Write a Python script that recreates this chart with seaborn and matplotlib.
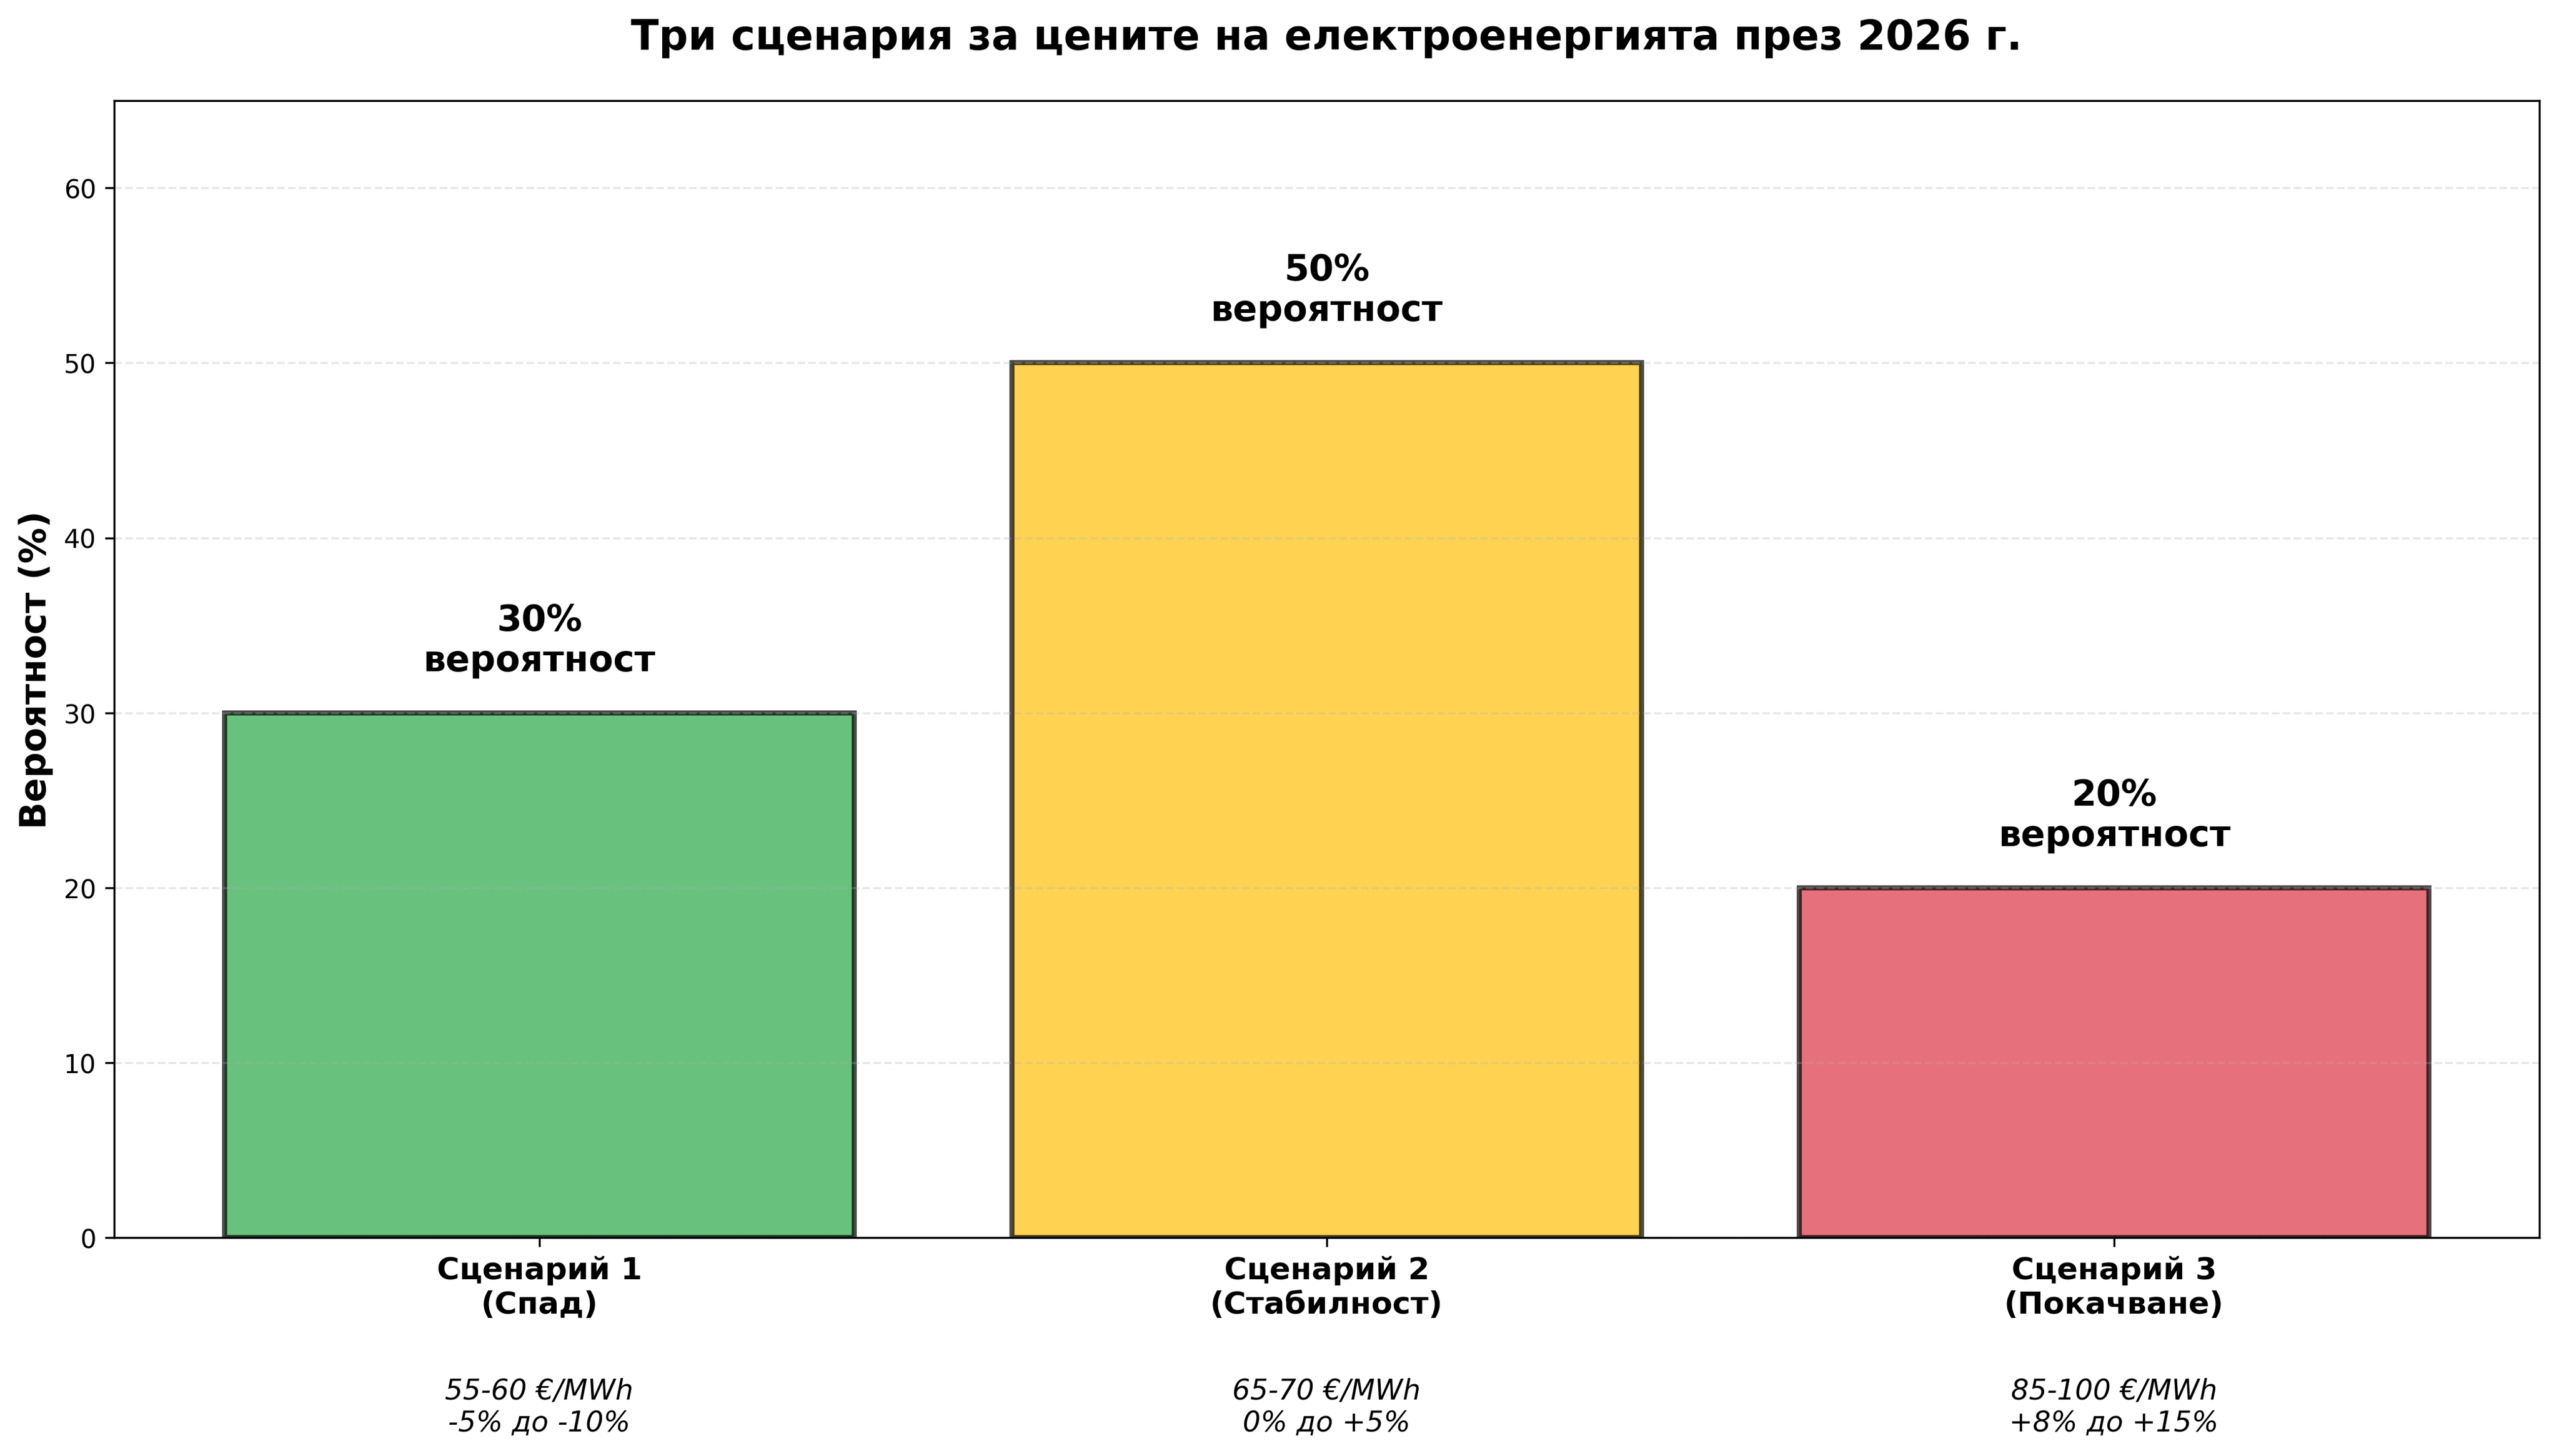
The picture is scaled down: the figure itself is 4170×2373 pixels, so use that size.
import pandas as pd
import seaborn as sns
import matplotlib.pyplot as plt

# Data
scenarios = ['Сценарий 1\n(Спад)', 'Сценарий 2\n(Стабилност)', 'Сценарий 3\n(Покачване)']
probabilities = [30, 50, 20]
prices = ['55-60 €/MWh\n-5% до -10%', '65-70 €/MWh\n0% до +5%', '85-100 €/MWh\n+8% до +15%']
colors = ['#28a745', '#ffc107', '#dc3545']

df = pd.DataFrame({'Сценарий': scenarios, 'Вероятност': probabilities})

fig, ax = plt.subplots(figsize=(13.9, 7.913))
sns.barplot(data=df, x='Сценарий', y='Вероятност', hue='Сценарий',
            palette=colors, saturation=1, alpha=0.7, edgecolor='black',
            linewidth=2, legend=False, ax=ax)

for i, (p, txt) in enumerate(zip(probabilities, prices)):
    ax.text(i, p + 2, f'{p}%\nвероятност', ha='center', va='bottom',
            fontsize=14, fontweight='bold')
    ax.text(i, -8, txt, ha='center', va='top', fontsize=11, style='italic')

ax.set_xlim(-0.54, 2.54)
ax.set_ylim(0, 65)
ax.set_xlabel('')
ax.set_ylabel('Вероятност (%)', fontsize=14, fontweight='bold')
ax.set_title('Три сценария за цените на електроенергията през 2026 г.',
             fontsize=16, fontweight='bold', pad=20)
for lbl in ax.get_xticklabels():
    lbl.set_fontweight('bold')
    lbl.set_fontsize(12)
ax.grid(axis='y', linestyle='--', alpha=0.3)

plt.subplots_adjust(left=0.0446, right=0.9923, top=0.9306, bottom=0.150)
plt.savefig('out.png', dpi=300)
